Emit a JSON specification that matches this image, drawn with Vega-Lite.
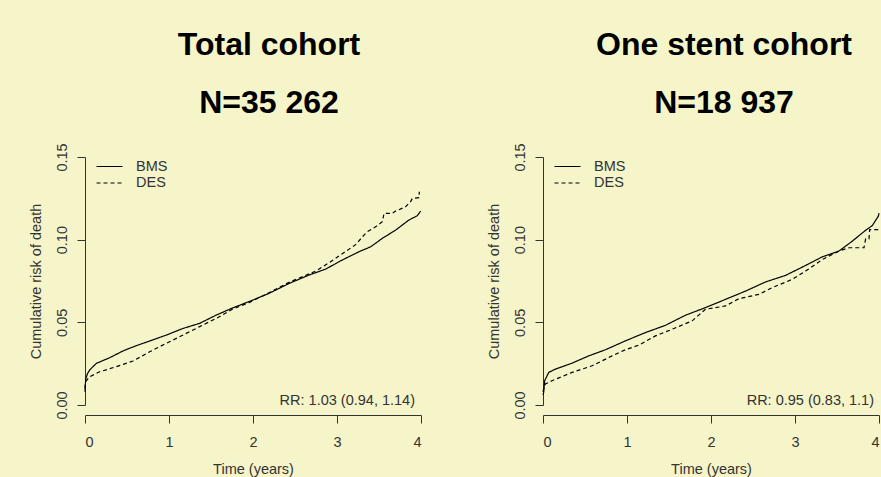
{
  "$schema": "https://vega.github.io/schema/vega-lite/v6.json",
  "background": "#F6F5C9",
  "padding": {"left": 28, "top": 28, "right": 0, "bottom": 20},
  "autosize": {"type": "pad"},
  "config": {
    "font": "Liberation Sans",
    "view": {"stroke": null},
    "axis": {
      "grid": false,
      "domainColor": "#333333",
      "tickColor": "#333333",
      "tickSize": 8,
      "labelFontSize": 14.5,
      "labelColor": "#333333",
      "titleFontSize": 14.5,
      "titleFontWeight": "normal",
      "titleColor": "#333333"
    },
    "legend": {
      "orient": "none",
      "legendX": 17,
      "legendY": 2,
      "padding": 0,
      "symbolType": "M-2,0H2",
      "symbolSize": 169,
      "symbolStrokeColor": "black",
      "symbolStrokeWidth": 1.2,
      "labelFontSize": 14.5,
      "labelColor": "#333333",
      "labelOffset": 19,
      "rowPadding": 1.5,
      "title": null
    },
    "title": {
      "font": "Liberation Sans",
      "fontSize": 32,
      "fontWeight": "bold",
      "color": "black",
      "subtitleFont": "Liberation Sans",
      "subtitleFontSize": 32,
      "subtitleFontWeight": "bold",
      "subtitleColor": "black",
      "subtitlePadding": 26,
      "anchor": "middle",
      "frame": "group",
      "dx": 16,
      "offset": 23
    }
  },
  "datasets": {
    "total": [
      {"t": 0, "risk": 0.008, "stent": "BMS"},
      {"t": 0.005, "risk": 0.013, "stent": "BMS"},
      {"t": 0.01, "risk": 0.016, "stent": "BMS"},
      {"t": 0.03, "risk": 0.019, "stent": "BMS"},
      {"t": 0.056, "risk": 0.0212, "stent": "BMS"},
      {"t": 0.135, "risk": 0.0252, "stent": "BMS"},
      {"t": 0.294, "risk": 0.0286, "stent": "BMS"},
      {"t": 0.452, "risk": 0.0327, "stent": "BMS"},
      {"t": 0.611, "risk": 0.0359, "stent": "BMS"},
      {"t": 0.77, "risk": 0.0387, "stent": "BMS"},
      {"t": 0.968, "risk": 0.0423, "stent": "BMS"},
      {"t": 1.167, "risk": 0.0463, "stent": "BMS"},
      {"t": 1.365, "risk": 0.0494, "stent": "BMS"},
      {"t": 1.563, "risk": 0.0544, "stent": "BMS"},
      {"t": 1.762, "risk": 0.0588, "stent": "BMS"},
      {"t": 1.96, "risk": 0.0627, "stent": "BMS"},
      {"t": 2.19, "risk": 0.0675, "stent": "BMS"},
      {"t": 2.429, "risk": 0.0735, "stent": "BMS"},
      {"t": 2.667, "risk": 0.0786, "stent": "BMS"},
      {"t": 2.865, "risk": 0.0822, "stent": "BMS"},
      {"t": 3.063, "risk": 0.0877, "stent": "BMS"},
      {"t": 3.262, "risk": 0.0927, "stent": "BMS"},
      {"t": 3.401, "risk": 0.0957, "stent": "BMS"},
      {"t": 3.54, "risk": 0.1008, "stent": "BMS"},
      {"t": 3.698, "risk": 0.1058, "stent": "BMS"},
      {"t": 3.857, "risk": 0.1119, "stent": "BMS"},
      {"t": 3.956, "risk": 0.1145, "stent": "BMS"},
      {"t": 3.996, "risk": 0.1173, "stent": "BMS"},
      {"t": 0, "risk": 0.01, "stent": "DES"},
      {"t": 0.005, "risk": 0.0141, "stent": "DES"},
      {"t": 0.056, "risk": 0.0171, "stent": "DES"},
      {"t": 0.175, "risk": 0.0201, "stent": "DES"},
      {"t": 0.373, "risk": 0.0232, "stent": "DES"},
      {"t": 0.571, "risk": 0.0266, "stent": "DES"},
      {"t": 0.77, "risk": 0.0322, "stent": "DES"},
      {"t": 0.968, "risk": 0.0373, "stent": "DES"},
      {"t": 1.167, "risk": 0.0423, "stent": "DES"},
      {"t": 1.365, "risk": 0.0474, "stent": "DES"},
      {"t": 1.563, "risk": 0.0524, "stent": "DES"},
      {"t": 1.762, "risk": 0.0581, "stent": "DES"},
      {"t": 1.96, "risk": 0.0621, "stent": "DES"},
      {"t": 2.12, "risk": 0.0661, "stent": "DES"},
      {"t": 2.429, "risk": 0.0742, "stent": "DES"},
      {"t": 2.746, "risk": 0.081, "stent": "DES"},
      {"t": 2.905, "risk": 0.086, "stent": "DES"},
      {"t": 3.063, "risk": 0.0915, "stent": "DES"},
      {"t": 3.222, "risk": 0.097, "stent": "DES"},
      {"t": 3.321, "risk": 0.1028, "stent": "DES"},
      {"t": 3.361, "risk": 0.1048, "stent": "DES"},
      {"t": 3.46, "risk": 0.1078, "stent": "DES"},
      {"t": 3.54, "risk": 0.1109, "stent": "DES"},
      {"t": 3.56, "risk": 0.1159, "stent": "DES"},
      {"t": 3.659, "risk": 0.1159, "stent": "DES"},
      {"t": 3.698, "risk": 0.1173, "stent": "DES"},
      {"t": 3.817, "risk": 0.1199, "stent": "DES"},
      {"t": 3.877, "risk": 0.123, "stent": "DES"},
      {"t": 3.897, "risk": 0.125, "stent": "DES"},
      {"t": 3.976, "risk": 0.1254, "stent": "DES"},
      {"t": 3.98, "risk": 0.129, "stent": "DES"}
    ],
    "onestent": [
      {"t": 0, "risk": 0.006, "stent": "BMS"},
      {"t": 0.008, "risk": 0.0076, "stent": "BMS"},
      {"t": 0.02, "risk": 0.0147, "stent": "BMS"},
      {"t": 0.068, "risk": 0.0197, "stent": "BMS"},
      {"t": 0.147, "risk": 0.0217, "stent": "BMS"},
      {"t": 0.346, "risk": 0.0253, "stent": "BMS"},
      {"t": 0.544, "risk": 0.0297, "stent": "BMS"},
      {"t": 0.743, "risk": 0.0334, "stent": "BMS"},
      {"t": 0.981, "risk": 0.0388, "stent": "BMS"},
      {"t": 1.219, "risk": 0.0438, "stent": "BMS"},
      {"t": 1.458, "risk": 0.0482, "stent": "BMS"},
      {"t": 1.696, "risk": 0.0543, "stent": "BMS"},
      {"t": 1.934, "risk": 0.0589, "stent": "BMS"},
      {"t": 2.173, "risk": 0.0639, "stent": "BMS"},
      {"t": 2.411, "risk": 0.0689, "stent": "BMS"},
      {"t": 2.649, "risk": 0.0744, "stent": "BMS"},
      {"t": 2.888, "risk": 0.0784, "stent": "BMS"},
      {"t": 3.126, "risk": 0.0844, "stent": "BMS"},
      {"t": 3.325, "risk": 0.0896, "stent": "BMS"},
      {"t": 3.523, "risk": 0.0931, "stent": "BMS"},
      {"t": 3.682, "risk": 0.0991, "stent": "BMS"},
      {"t": 3.841, "risk": 0.1057, "stent": "BMS"},
      {"t": 3.92, "risk": 0.1085, "stent": "BMS"},
      {"t": 3.992, "risk": 0.1142, "stent": "BMS"},
      {"t": 4.0, "risk": 0.116, "stent": "BMS"},
      {"t": 0, "risk": 0.008, "stent": "DES"},
      {"t": 0.008, "risk": 0.0096, "stent": "DES"},
      {"t": 0.028, "risk": 0.0127, "stent": "DES"},
      {"t": 0.107, "risk": 0.0147, "stent": "DES"},
      {"t": 0.346, "risk": 0.0197, "stent": "DES"},
      {"t": 0.584, "risk": 0.0237, "stent": "DES"},
      {"t": 0.822, "risk": 0.0297, "stent": "DES"},
      {"t": 0.981, "risk": 0.0334, "stent": "DES"},
      {"t": 1.14, "risk": 0.0362, "stent": "DES"},
      {"t": 1.339, "risk": 0.0418, "stent": "DES"},
      {"t": 1.537, "risk": 0.0458, "stent": "DES"},
      {"t": 1.776, "risk": 0.0509, "stent": "DES"},
      {"t": 1.934, "risk": 0.0579, "stent": "DES"},
      {"t": 2.173, "risk": 0.0599, "stent": "DES"},
      {"t": 2.332, "risk": 0.0643, "stent": "DES"},
      {"t": 2.57, "risk": 0.0669, "stent": "DES"},
      {"t": 2.729, "risk": 0.071, "stent": "DES"},
      {"t": 2.967, "risk": 0.076, "stent": "DES"},
      {"t": 3.126, "risk": 0.081, "stent": "DES"},
      {"t": 3.325, "risk": 0.088, "stent": "DES"},
      {"t": 3.523, "risk": 0.0931, "stent": "DES"},
      {"t": 3.642, "risk": 0.0951, "stent": "DES"},
      {"t": 3.821, "risk": 0.0951, "stent": "DES"},
      {"t": 3.841, "risk": 0.1005, "stent": "DES"},
      {"t": 3.881, "risk": 0.1005, "stent": "DES"},
      {"t": 3.889, "risk": 0.1061, "stent": "DES"},
      {"t": 4.0, "risk": 0.1061, "stent": "DES"}
    ],
    "rr_total": [{"t": 4, "risk": 0, "label": "RR: 1.03 (0.94, 1.14)"}],
    "rr_onestent": [{"t": 4, "risk": 0, "label": "RR: 0.95 (0.83, 1.1)"}]
  },
  "spacing": 122,
  "bounds": "flush",
  "resolve": {"scale": {"strokeDash": "independent"}, "legend": {"strokeDash": "independent"}},
  "hconcat": [
    {
      "width": 336,
      "height": 248,
      "title": {"text": "Total cohort", "subtitle": "N=35 262"},
      "layer": [
        {
          "data": {"name": "total"},
          "mark": {"type": "line", "color": "black", "strokeWidth": 1.2},
          "encoding": {
            "x": {"field": "t", "type": "quantitative", "scale": {"domain": [0, 4], "nice": false, "zero": false},
              "axis": {"title": "Time (years)", "values": [0, 1, 2, 3, 4], "format": "d", "offset": 10, "labelPadding": 12, "titlePadding": 14}},
            "y": {"field": "risk", "type": "quantitative", "scale": {"domain": [0, 0.15], "nice": false},
              "axis": {"title": "Cumulative risk of death", "values": [0, 0.05, 0.1, 0.15], "format": ".2f", "labelAngle": -90, "labelPadding": 8, "titlePadding": 11}},
            "strokeDash": {"field": "stent", "type": "nominal", "scale": {"domain": ["BMS", "DES"], "range": [[1, 0], [4, 3]]}, "legend": {"title": null}}
          }
        },
        {
          "data": {"name": "rr_total"},
          "mark": {"type": "text", "align": "right", "baseline": "alphabetic", "dx": -6, "fontSize": 14.5, "color": "#333333"},
          "encoding": {
            "x": {"field": "t", "type": "quantitative"},
            "y": {"field": "risk", "type": "quantitative"},
            "text": {"field": "label"}
          }
        }
      ]
    },
    {
      "width": 336,
      "height": 248,
      "title": {"text": "One stent cohort", "subtitle": "N=18 937", "dx": 13},
      "layer": [
        {
          "data": {"name": "onestent"},
          "mark": {"type": "line", "color": "black", "strokeWidth": 1.2},
          "encoding": {
            "x": {"field": "t", "type": "quantitative", "scale": {"domain": [0, 4], "nice": false, "zero": false},
              "axis": {"title": "Time (years)", "values": [0, 1, 2, 3, 4], "format": "d", "offset": 10, "labelPadding": 12, "titlePadding": 14}},
            "y": {"field": "risk", "type": "quantitative", "scale": {"domain": [0, 0.15], "nice": false},
              "axis": {"title": "Cumulative risk of death", "values": [0, 0.05, 0.1, 0.15], "format": ".2f", "labelAngle": -90, "labelPadding": 8, "titlePadding": 11}},
            "strokeDash": {"field": "stent", "type": "nominal", "scale": {"domain": ["BMS", "DES"], "range": [[1, 0], [4, 3]]}, "legend": {"title": null}}
          }
        },
        {
          "data": {"name": "rr_onestent"},
          "mark": {"type": "text", "align": "right", "baseline": "alphabetic", "dx": -5, "fontSize": 14.5, "color": "#333333"},
          "encoding": {
            "x": {"field": "t", "type": "quantitative"},
            "y": {"field": "risk", "type": "quantitative"},
            "text": {"field": "label"}
          }
        }
      ]
    }
  ]
}
